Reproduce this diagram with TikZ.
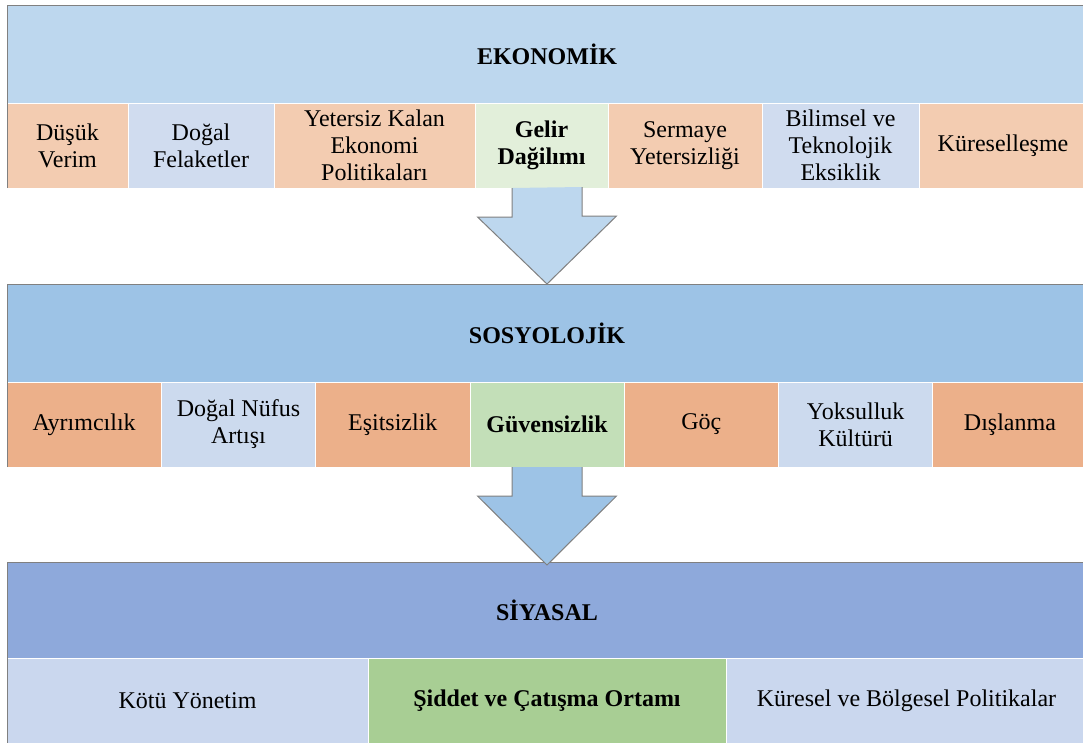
\documentclass[tikz,border=0pt]{standalone}
\usepackage{fontspec}
\setmainfont{Liberation Serif}
\usetikzlibrary{positioning,calc}
\definecolor{ekohdr}{HTML}{BDD7EE}
\definecolor{sushdr}{HTML}{9DC3E6}
\definecolor{siyhdr}{HTML}{8EA9DB}
\definecolor{orangeA}{HTML}{F3CCB1}
\definecolor{blueA}{HTML}{D0DCEF}
\definecolor{greenA}{HTML}{E2EFDA}
\definecolor{orangeB}{HTML}{ECB08A}
\definecolor{blueB}{HTML}{CCDAEE}
\definecolor{greenB}{HTML}{C3DFB8}
\definecolor{blueC}{HTML}{CAD7EE}
\definecolor{greenC}{HTML}{A8CE94}

\begin{document}
\begin{tikzpicture}[x=1pt,y=-1pt,
  every node/.style={inner sep=2pt,outer sep=0pt,align=center,font=\fontsize{24}{27}\selectfont},
  hdr/.style={minimum width=1080pt,minimum height=98pt,anchor=north west,font=\fontsize{24}{27}\selectfont\bfseries},
  cell/.style={draw=white,line width=0.8pt,minimum height=85pt},
  frame/.style={draw=gray,line width=1pt},
  flow/.style={draw=gray,line width=1pt}]
\useasboundingbox (0,0) rectangle (1083,742);

\node[hdr,fill=ekohdr] (eko) at (7,5) {EKONOMİK};
\node[cell,fill=orangeA,minimum width=121pt,anchor=north west] (dusuk) at (eko.south west) {Düşük\\Verim};
\node[cell,fill=blueA,minimum width=146pt,right=0pt of dusuk] (dogal) {Doğal\\Felaketler};
\node[cell,fill=orangeA,minimum width=201pt,right=0pt of dogal] (yetersiz) {Yetersiz Kalan\\Ekonomi\\Politikaları};
\node[cell,fill=greenA,minimum width=133pt,right=0pt of yetersiz,font=\fontsize{24}{27}\selectfont\bfseries] (gelir) {Gelir\\Dağilımı};
\node[cell,fill=orangeA,minimum width=154pt,right=0pt of gelir] (sermaye) {Sermaye\\Yetersizliği};
\node[cell,fill=blueA,minimum width=157pt,right=0pt of sermaye] (bilimsel) {Bilimsel ve\\Teknolojik\\Eksiklik};
\node[cell,fill=orangeA,minimum width=168pt,right=0pt of bilimsel] (kuresel) {Küreselleşme};

\node[hdr,fill=sushdr] (sos) at (7,284) {SOSYOLOJİK};
\node[cell,fill=orangeB,minimum width=154.3pt,anchor=north west] (ayrim) at (sos.south west) {Ayrımcılık};
\node[cell,fill=blueB,minimum width=154.3pt,right=0pt of ayrim] (nufus) {Doğal Nüfus\\Artışı};
\node[cell,fill=orangeB,minimum width=154.3pt,right=0pt of nufus] (esit) {Eşitsizlik};
\node[cell,fill=greenB,minimum width=154.3pt,right=0pt of esit,font=\fontsize{24}{27}\selectfont\bfseries] (guven) {Güvensizlik};
\node[cell,fill=orangeB,minimum width=154.3pt,right=0pt of guven] (goc) {Göç};
\node[cell,fill=blueB,minimum width=154.3pt,right=0pt of goc] (yoksul) {Yoksulluk\\Kültürü};
\node[cell,fill=orangeB,minimum width=154.3pt,right=0pt of yoksul] (dislan) {Dışlanma};

\node[hdr,fill=siyhdr,minimum height=96pt] (siy) at (7,562) {SİYASAL};
\node[cell,fill=blueC,minimum width=361pt,anchor=north west] (kotu) at (siy.south west) {Kötü Yönetim};
\node[cell,fill=greenC,minimum width=358pt,right=0pt of kotu,font=\fontsize{24}{27}\selectfont\bfseries] (siddet) {Şiddet ve Çatışma Ortamı};
\node[cell,fill=blueC,minimum width=361pt,right=0pt of siddet] (bolge) {Küresel ve Bölgesel Politikalar};

\draw[frame] (dusuk.south west) -- (eko.north west) -- (eko.north east);
\draw[frame] (ayrim.south west) -- (sos.north west) -- (sos.north east);
\draw[frame] (kotu.south west) -- (siy.north west) -- (siy.north east);

\coordinate (a1) at (eko.center |- gelir.south);
\coordinate (a2) at (sos.center |- guven.south);
\draw[flow,fill=ekohdr] (a1) ++(-35,0) -- ++(0,29) -- ++(-34.5,0) -- (sos.north) -- ++(69.5,-68) -- ++(-34.5,0) -- ++(0,-29);
\draw[flow,fill=sushdr] (a2) ++(-35,0) -- ++(0,29) -- ++(-34.5,0) -- ($(siy.north)+(0,3)$) -- ++(69.5,-69) -- ++(-34.5,0) -- ++(0,-29);
\end{tikzpicture}
\end{document}
